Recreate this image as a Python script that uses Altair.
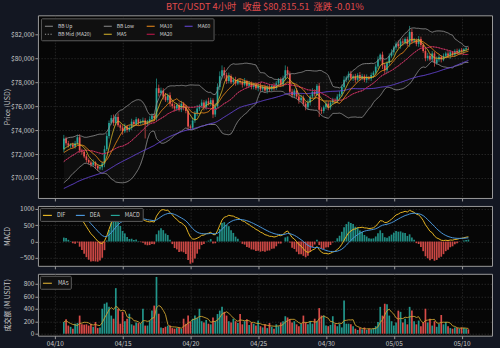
import altair as alt
import pandas as pd
import numpy as np

# ---------------- data ----------------
start_time = "2024-04-10 16:00"
first_open = 72400

# closes before the visible window (only used to warm up the indicators)
pre_close = [
    67200, 67400, 67100, 67300, 67500, 67200, 67000, 67300, 67600, 67400,
    67200, 67100, 67400, 67500, 67300, 67200, 67400, 67600, 67500, 67300,
    67600, 67800, 67700, 67900, 68100, 68000, 68200, 68400, 68300, 68500,
    68700, 68600, 68800, 69000, 68900, 69100, 69300, 69200, 69400, 69600,
    69600, 69900, 70200, 70000, 70400, 70700, 70500, 70900, 71200, 71000,
    71400, 71700, 71500, 71900, 72200, 72000, 72000, 72300, 71900, 72400,
]

close = [
    73300, 72900, 72700, 72800, 72600, 72900, 73400, 72300, 72200, 71800, 71500, 71300,
    71100, 71300, 71000, 70800, 70900, 71200, 72400, 73500, 74600, 75000, 74600, 75100,
    74400, 74200, 73900, 74300, 74000, 74200, 74700, 74500, 74900, 74600, 74700, 74800,
    74500, 74700, 74900, 75200, 75000, 77500, 77100, 77300, 76800, 76500, 76900, 76200,
    76000, 75800, 76100, 75700, 76200, 75900, 75600, 74300, 74200, 74800, 75400, 75800,
    76000, 76300, 75900, 76400, 76200, 76500, 75300, 76000, 77600, 78500, 79000, 78600,
    78100, 78500, 78000, 78200, 77900, 78100, 78000, 77800, 78100, 77700, 77900, 77600,
    77800, 77500, 77700, 77400, 77600, 77300, 77600, 77400, 77700, 77500, 77900, 78200,
    77800, 78300, 79000, 78700, 77200, 76900, 77300, 76800, 76500, 76700, 76200, 75900,
    76300, 76800, 77200, 77000, 77700, 75700, 75600, 75900, 76200, 75900, 76300, 76500,
    76400, 76800, 77000, 77600, 78200, 78400, 78700, 78300, 78500, 78200, 78600, 78300,
    78500, 78200, 78400, 78300, 78600, 78800, 79300, 79900, 80300, 79400, 79000, 79600,
    80200, 80500, 80900, 81200, 81000, 81400, 81300, 81600, 81200, 82200, 81400, 81500,
    81200, 81600, 81100, 80600, 80000, 80200, 79900, 80400, 79600, 79900, 80100, 79900,
    80200, 80400, 80200, 80500, 80300, 80600, 80500, 80700, 80600, 80750, 80825, 80815.51,
]

wick_up = [
    300, 150, 200, 100, 150, 200, 200, 250, 150, 100, 200, 150,
    150, 250, 100, 150, 200, 150, 300, 250, 200, 250, 300, 200,
    300, 150, 200, 250, 100, 200, 250, 150, 200, 100, 200, 250,
    200, 150, 250, 200, 200, 800, 300, 250, 200, 300, 150, 250,
    250, 200, 150, 200, 250, 150, 200, 200, 150, 250, 200, 300,
    150, 250, 200, 150, 300, 200, 150, 250, 300, 400, 400, 250,
    200, 300, 150, 200, 250, 150, 200, 150, 250, 100, 200, 150,
    150, 200, 100, 250, 150, 200, 150, 200, 100, 250, 200, 150,
    200, 250, 400, 300, 200, 250, 150, 200, 150, 250, 200, 150,
    250, 150, 300, 200, 150, 250, 200, 150, 250, 200, 150, 200,
    150, 200, 250, 200, 300, 150, 200, 250, 150, 200, 150, 250,
    200, 150, 250, 100, 200, 150, 200, 250, 100, 250, 200, 150,
    200, 250, 150, 200, 300, 200, 250, 150, 200, 500, 250, 200,
    150, 250, 200, 150, 200, 250, 150, 200, 150, 250, 200, 150,
    200, 150, 200, 150, 100, 150, 200, 100, 150, 100, 150, 100,
]

wick_dn = [
    250, 200, 150, 200, 100, 150, 150, 200, 250, 150, 200, 150,
    200, 150, 250, 200, 150, 250, 300, 150, 200, 150, 250, 200,
    150, 250, 300, 150, 200, 150, 200, 250, 150, 200, 150, 200,
    1200, 200, 150, 200, 250, 200, 300, 200, 250, 150, 200, 250,
    200, 250, 200, 150, 200, 250, 200, 300, 200, 150, 200, 250,
    200, 150, 250, 200, 150, 200, 300, 200, 150, 250, 200, 300,
    250, 200, 150, 250, 200, 150, 200, 250, 150, 200, 150, 200,
    200, 150, 250, 150, 200, 150, 250, 200, 150, 200, 150, 250,
    150, 200, 150, 250, 300, 200, 250, 200, 300, 150, 200, 250,
    200, 250, 150, 200, 150, 600, 250, 200, 150, 250, 200, 150,
    200, 150, 250, 200, 150, 200, 250, 150, 200, 250, 150, 200,
    150, 200, 250, 150, 200, 250, 150, 200, 150, 300, 350, 250,
    200, 150, 250, 200, 150, 200, 250, 150, 200, 250, 200, 150,
    200, 250, 200, 150, 250, 200, 150, 250, 300, 150, 200, 250,
    150, 200, 150, 250, 150, 200, 150, 200, 150, 200, 150, 150,
]

volume = [
    187, 230, 130, 110, 80, 160, 170, 290, 150, 145, 150, 130,
    160, 110, 187, 90, 100, 400, 480, 500, 430, 290, 240, 730,
    400, 160, 350, 200, 240, 320, 150, 130, 180, 170, 160, 400,
    130, 130, 210, 370, 450, 910, 320, 100, 90, 110, 130, 130,
    90, 80, 90, 100, 80, 240, 160, 290, 190, 240, 293, 250,
    400, 200, 180, 220, 160, 150, 260, 200, 315, 370, 430, 350,
    290, 200, 180, 240, 200, 170, 315, 150, 200, 230, 140, 180,
    160, 130, 210, 120, 100, 150, 90, 170, 110, 80, 150, 120,
    180, 200, 280, 260, 230, 180, 200, 150, 120, 160, 290, 180,
    150, 200, 160, 240, 200, 410, 290, 290, 130, 120, 140, 280,
    150, 120, 160, 100, 530, 160, 160, 150, 120, 80, 60, 90,
    70, 100, 60, 80, 70, 90, 120, 187, 430, 290, 480, 470,
    290, 200, 130, 180, 370, 350, 180, 240, 150, 430, 370, 200,
    150, 210, 120, 180, 400, 180, 240, 130, 200, 110, 160, 300,
    150, 190, 120, 90, 80, 100, 90, 80, 100, 90, 80, 70,
]

price_ticks = [70000, 72000, 74000, 76000, 78000, 80000, 82000]
macd_ticks = [-500, 0, 500, 1000]
vol_ticks = [0, 200, 400, 600, 800]
date_ticks = [(4, 10), (4, 15), (4, 20), (4, 25), (4, 30), (5, 5), (5, 10)]

title_text = "BTC/USDT 4小时\u00a0\u00a0\u00a0收盘 $80,815.51\u00a0\u00a0涨跌 -0.01%"

# ---------------- indicators ----------------
n = len(close)
times = pd.date_range(start_time, periods=n, freq="4h").strftime("%Y-%m-%dT%H:%M:%S")
k = len(pre_close)
allc = pd.Series(pre_close + close, dtype=float)


def vis(s):
    return s.iloc[k:].to_numpy()


ma5 = vis(allc.rolling(5).mean())
ma10 = vis(allc.rolling(10).mean())
ma20 = vis(allc.rolling(20).mean())
ma60 = vis(allc.rolling(60).mean())
sd20 = vis(allc.rolling(20).std(ddof=0))
bb_up = ma20 + 2 * sd20
bb_low = ma20 - 2 * sd20

ema12 = allc.ewm(span=12, adjust=False).mean()
ema26 = allc.ewm(span=26, adjust=False).mean()
dif_all = ema12 - ema26
dea_all = dif_all.ewm(span=9, adjust=False).mean()
dif = vis(dif_all)
dea = vis(dea_all)
hist = 2 * (dif - dea)

opens = [first_open] + close[:-1]
c_arr = np.array(close, dtype=float)
o_arr = np.array(opens, dtype=float)
hi = np.maximum(o_arr, c_arr) + np.array(wick_up)
lo = np.minimum(o_arr, c_arr) - np.array(wick_dn)

candles = pd.DataFrame({"t": times, "o": o_arr, "c": c_arr, "h": hi, "l": lo,
                        "vol": volume})
candles["up"] = candles["c"] >= candles["o"]
up_df = candles[candles["up"]]
dn_df = candles[~candles["up"]]

band = pd.DataFrame({"t": times, "up": bb_up, "low": bb_low})

# legend order (filled column by column, two rows)
price_series = ["BB Up", "BB Mid (MA20)", "BB Low", "MA5", "MA10", "MA20", "MA60"]
price_colors = ["#8c8c8c", "#9a9a9a", "#8c8c8c", "#d8b52a", "#f08c1a", "#c8184f", "#6a48e0"]
price_dash = [[1, 0], [1.2, 1.6], [1, 0], [1, 0], [1, 0], [1, 0], [1, 0]]
vals = {"BB Up": bb_up, "BB Low": bb_low, "MA10": ma10, "MA60": ma60,
        "BB Mid (MA20)": ma20, "MA5": ma5, "MA20": ma20}
draw_order = ["BB Up", "BB Low", "BB Mid (MA20)", "MA60", "MA20", "MA10", "MA5"]
lines = pd.concat([pd.DataFrame({"t": times, "v": vals[s], "s": s, "o": i})
                   for i, s in enumerate(draw_order)])

macd_lines = pd.concat([
    pd.DataFrame({"t": times, "v": dif, "s": "DIF", "o": 0}),
    pd.DataFrame({"t": times, "v": dea, "s": "DEA", "o": 1}),
])
hist_df = pd.DataFrame({"t": times, "h": hist})
hist_pos = hist_df[hist_df["h"] >= 0]
hist_neg = hist_df[hist_df["h"] < 0]

vol_ma = pd.DataFrame({"t": times, "v": pd.Series(volume, dtype=float).rolling(5, min_periods=1).mean(), "s": "MA5"})

# ---------------- styling ----------------
UP = "#26a69a"
DN = "#ef5350"
FONT = "Noto Sans CJK SC"
W = 455

x_scale = alt.Scale(domain=[alt.DateTime(year=2024, month=4, date=9, hours=3),
                            alt.DateTime(year=2024, month=5, date=11, hours=21)])
x_vals = [alt.DateTime(year=2024, month=m, date=d) for m, d in date_ticks]


def xenc(show_labels):
    return alt.X("t:T", scale=x_scale, title=None,
                 axis=alt.Axis(values=x_vals, format="%m/%d", labels=show_labels,
                               grid=True, ticks=True, tickSize=3, labelPadding=2))


def yaxis(title, values, fmt):
    return alt.Axis(title=title, values=values, format=fmt, grid=True, tickSize=3,
                    labelPadding=1, minExtent=24, maxExtent=24, titlePadding=3)


# ---- price panel ----
ps = alt.Scale(domain=[68333, 83583], nice=False, zero=False)
pax = yaxis("Price (USD)", price_ticks, "$,.0f")

band_l = alt.Chart(band).mark_area(color="#ffffff", opacity=0.035).encode(
    x=xenc(False), y=alt.Y("up:Q", scale=ps, axis=pax), y2="low:Q")


def candle_layers(df, col):
    w = alt.Chart(df).mark_rule(color=col, strokeWidth=0.7).encode(
        x=xenc(False), y=alt.Y("l:Q", scale=ps, axis=pax), y2="h:Q")
    b = alt.Chart(df).mark_bar(color=col, size=1.7).encode(
        x=xenc(False), y=alt.Y("o:Q", scale=ps, axis=pax), y2="c:Q")
    return [w, b]


price_lines = alt.Chart(lines).mark_line(strokeWidth=0.9).encode(
    x=xenc(False),
    y=alt.Y("v:Q", scale=ps, axis=pax),
    color=alt.Color("s:N", scale=alt.Scale(domain=price_series, range=price_colors),
                    legend=alt.Legend(title=None, orient="top-left", columns=4, offset=3,
                                      columnPadding=9, rowPadding=0, labelOffset=4,
                                      symbolType="stroke", symbolSize=64,
                                      symbolStrokeWidth=1.1, labelFontSize=5,
                                      padding=3)),
    strokeDash=alt.StrokeDash("s:N", scale=alt.Scale(domain=price_series, range=price_dash),
                              legend=alt.Legend(title=None, orient="top-left", columns=4)),
    order="o:Q",
)

price = alt.layer(band_l, *candle_layers(up_df, UP), *candle_layers(dn_df, DN),
                  price_lines).properties(width=W, height=183)

# ---- MACD panel ----
ms = alt.Scale(domain=[-742, 1090], nice=False, zero=False)
max_ = yaxis("MACD", macd_ticks, "d")
hp = alt.Chart(hist_pos).mark_bar(color=UP, size=1.7, opacity=0.85).encode(
    x=xenc(False), y=alt.Y("h:Q", scale=ms, axis=max_), y2=alt.datum(0))
hn = alt.Chart(hist_neg).mark_bar(color=DN, size=1.7, opacity=0.85).encode(
    x=xenc(False), y=alt.Y("h:Q", scale=ms, axis=max_), y2=alt.datum(0))
ml = alt.Chart(macd_lines).mark_line(strokeWidth=1).encode(
    x=xenc(False), y=alt.Y("v:Q", scale=ms, axis=max_),
    color=alt.Color("s:N", scale=alt.Scale(domain=["DIF", "DEA", "MACD"],
                                           range=["#e3b323", "#4a96d8", UP]),
                    legend=alt.Legend(title=None, orient="top-left", direction="horizontal",
                                      columns=3, offset=2, columnPadding=7, labelOffset=4,
                                      symbolType="stroke", symbolSize=80,
                                      symbolStrokeWidth=1.2, labelFontSize=5.5, padding=2)),
    order="o:Q",
)
macd = alt.layer(hp, hn, ml).properties(width=W, height=60)

# ---- volume panel ----
vs = alt.Scale(domain=[-32, 960], nice=False, zero=False)
vax = yaxis("成交额 (M USDT)", vol_ticks, "d")
vu = alt.Chart(up_df).mark_bar(color=UP, size=1.7, opacity=0.9).encode(
    x=xenc(True), y=alt.Y("vol:Q", scale=vs, axis=vax), y2=alt.datum(0))
vd = alt.Chart(dn_df).mark_bar(color=DN, size=1.7, opacity=0.9).encode(
    x=xenc(True), y=alt.Y("vol:Q", scale=vs, axis=vax), y2=alt.datum(0))
vl = alt.Chart(vol_ma).mark_line(strokeWidth=0.9).encode(
    x=xenc(True), y=alt.Y("v:Q", scale=vs, axis=vax),
    color=alt.Color("s:N", scale=alt.Scale(domain=["MA5"], range=["#c9a030"]),
                    legend=alt.Legend(title=None, orient="top-left", offset=2, labelOffset=5,
                                      symbolType="stroke", symbolSize=80,
                                      symbolStrokeWidth=1.2, labelFontSize=5.5, padding=2)),
)
vol = alt.layer(vu, vd, vl).properties(width=W, height=62)

chart = alt.vconcat(price, macd, vol, spacing=3).resolve_scale(
    y="independent", color="independent", strokeDash="independent"
).resolve_legend(color="independent", strokeDash="independent").properties(
    title=alt.TitleParams(title_text, color="#e24b4b", fontSize=9.3, font=FONT,
                          fontWeight="normal", anchor="middle", offset=3, dx=17),
    padding={"left": 3, "top": 2, "right": 7, "bottom": 3},
).configure(
    background="#131722", font=FONT
).configure_view(
    fill="#060606", stroke="#9a9a9a", strokeWidth=1
).configure_axis(
    labelColor="#c8c8c8", titleColor="#c8c8c8", labelFontSize=6.5, titleFontSize=7,
    titleFontWeight="normal", tickColor="#9a9a9a", domain=False,
    gridColor="#3a3a3a", gridDash=[1.5, 1.5], gridWidth=0.6, labelFont=FONT, titleFont=FONT,
).configure_legend(
    labelColor="#d0d0d0", fillColor="#101010", strokeColor="#5a5a5a", cornerRadius=1,
    labelFont=FONT,
)

chart.save("out.html", embed_options={"renderer": "svg", "actions": False})
